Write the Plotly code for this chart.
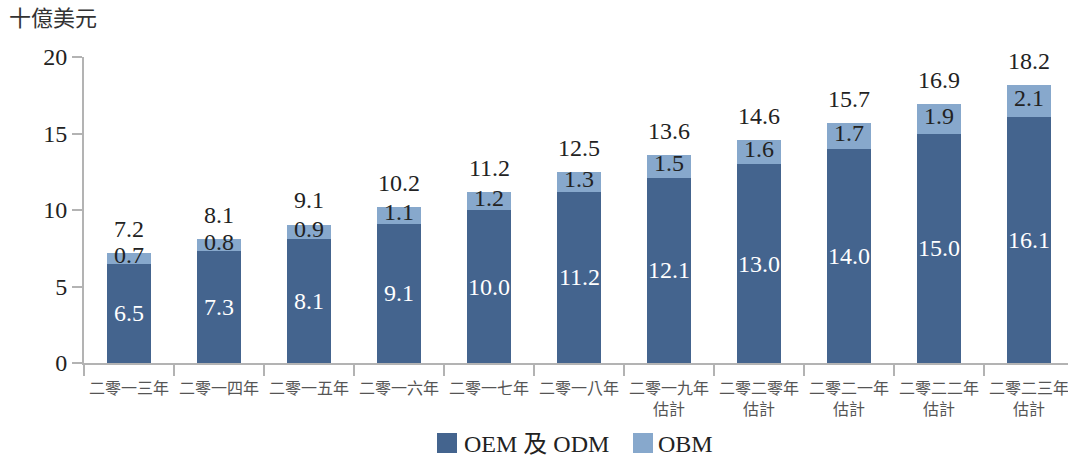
import plotly.graph_objects as go

years = ["二零一三年", "二零一四年", "二零一五年", "二零一六年", "二零一七年", "二零一八年",
         "二零一九年<br>估計", "二零二零年<br>估計", "二零二一年<br>估計", "二零二二年<br>估計",
         "二零二三年<br>估計"]
oem_odm = [6.5, 7.3, 8.1, 9.1, 10.0, 11.2, 12.1, 13.0, 14.0, 15.0, 16.1]
obm = [0.7, 0.8, 0.9, 1.1, 1.2, 1.3, 1.5, 1.6, 1.7, 1.9, 2.1]
totals = [7.2, 8.1, 9.1, 10.2, 11.2, 12.5, 13.6, 14.6, 15.7, 16.9, 18.2]
series_names = ["OEM 及 ODM", "OBM"]

SERIF = "Liberation Serif, Noto Sans CJK TC, serif"
DARK = "#44648e"
LIGHT = "#87a8cc"
AXIS = "#b3b3b3"
INK = "#222222"

W, H = 1068, 457
ML, MR, MT, MB = 84, 0, 57, 94
PW, PH = W - ML - MR, H - MT - MB


def px_x(px):
    return (px - ML) / PW


def px_y(py):
    return (H - MB - py) / PH


fig = go.Figure()
fig.add_trace(go.Bar(x=years, y=oem_odm, name=series_names[0], marker_color=DARK,
                     marker_line_width=0, showlegend=False))
fig.add_trace(go.Bar(x=years, y=obm, name=series_names[1], marker_color=LIGHT,
                     marker_line_width=0, showlegend=False))

annotations = []
for cat, a, b, t in zip(years, oem_odm, obm, totals):
    annotations.append(dict(x=cat, y=a / 2, text=f"{a:.1f}", showarrow=False,
                            font=dict(family=SERIF, size=24, color="white")))
    annotations.append(dict(x=cat, y=a + b / 2, text=f"{b:.1f}", showarrow=False,
                            yshift=3, font=dict(family=SERIF, size=24, color=INK)))
    annotations.append(dict(x=cat, y=t, text=f"{t:.1f}", showarrow=False,
                            yanchor="middle", yshift=24,
                            font=dict(family=SERIF, size=24, color=INK)))

# unit label
annotations.append(dict(xref="paper", yref="paper", x=px_x(7), y=px_y(18),
                        xanchor="left", yanchor="middle", text="十億美元",
                        showarrow=False,
                        font=dict(family=SERIF, size=22, color="#333333")))

# legend keys drawn as swatches with captions
shapes = []
legend_items = [(series_names[0], DARK, 437, 462), (series_names[1], LIGHT, 633, 656)]
for name, color, sx, tx in legend_items:
    shapes.append(dict(type="rect", xref="paper", yref="paper",
                       x0=px_x(sx), x1=px_x(sx + 20), y0=px_y(453), y1=px_y(433),
                       fillcolor=color, line_width=0))
    annotations.append(dict(xref="paper", yref="paper", x=px_x(tx), y=px_y(444),
                            xanchor="left", yanchor="middle", text=name,
                            showarrow=False,
                            font=dict(family=SERIF, size=24, color=INK)))

fig.update_layout(
    barmode="stack",
    bargap=0.51,
    width=W, height=H,
    margin=dict(l=ML, r=MR, t=MT, b=MB, autoexpand=False),
    paper_bgcolor="white", plot_bgcolor="white",
    showlegend=False,
    annotations=annotations,
    shapes=shapes,
    xaxis=dict(type="category", range=[-0.5, -0.5 + PW / 90.0], automargin=False,
               showline=True, linecolor=AXIS, linewidth=2, tickangle=0,
               ticks="outside", tickson="boundaries", ticklen=11, tickcolor=AXIS,
               tickwidth=2, ticklabelstandoff=10,
               tickfont=dict(family=SERIF, size=16, color="#555555"),
               showgrid=False, zeroline=False),
    yaxis=dict(range=[0, 20], dtick=5, automargin=False, showline=True,
               linecolor=AXIS, linewidth=2,
               ticks="outside", ticklen=10, tickcolor=AXIS, tickwidth=2,
               tickfont=dict(family=SERIF, size=24, color=INK),
               showgrid=False, zeroline=False),
)

fig.write_html("out.html")
